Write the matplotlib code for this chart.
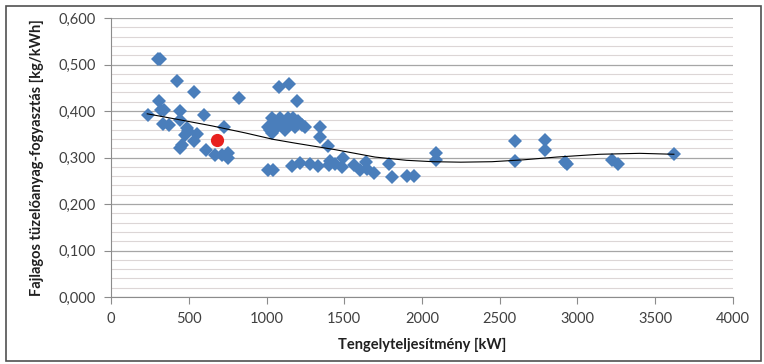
import numpy as np
import matplotlib
matplotlib.use("Agg")
import matplotlib.pyplot as plt
from matplotlib.ticker import MultipleLocator, FuncFormatter
from matplotlib.patches import Rectangle

plt.rcParams['font.family'] = ['Lato', 'DejaVu Sans']

# measured points: shaft power [kW] and specific fuel consumption [kg/kWh]
power = [300, 315, 427, 532, 823, 309, 236, 322, 343, 444, 598, 336, 375, 444,
         729, 487, 497, 476, 551, 536, 454, 444, 611, 669, 716, 754, 750,
         1080, 1145, 1194,
         1010, 1022, 1033, 1040, 1033, 1055, 1070, 1090, 1108, 1119, 1140, 1151,
         1173, 1185, 1205, 1230, 1248,
         1344, 1344, 1393, 1012, 1044, 1162, 1215, 1280, 1333, 1408, 1402,
         1494, 1487, 1441, 1565, 1600, 1640, 1648, 1691,
         1790, 1805, 1901, 1949, 2087, 2087, 2598, 2598, 2791, 2791,
         2918, 2932, 3220, 3262, 3622]
consumption = [0.512, 0.512, 0.465, 0.440, 0.428, 0.422, 0.392, 0.403, 0.403, 0.399,
               0.392, 0.372, 0.371, 0.381, 0.365, 0.363, 0.357, 0.349, 0.350, 0.335,
               0.327, 0.320, 0.317, 0.306, 0.306, 0.310, 0.299,
               0.451, 0.458, 0.422,
               0.365, 0.360, 0.385, 0.372, 0.353, 0.378, 0.365, 0.385, 0.372, 0.360,
               0.385, 0.372, 0.385, 0.365, 0.378, 0.370, 0.365,
               0.365, 0.345, 0.325, 0.274, 0.274, 0.281, 0.288, 0.285, 0.281, 0.293,
               0.283, 0.299, 0.279, 0.285, 0.284, 0.273, 0.290, 0.275, 0.266,
               0.285, 0.258, 0.260, 0.260, 0.309, 0.295, 0.336, 0.293, 0.337, 0.317,
               0.291, 0.287, 0.294, 0.287, 0.307]

# highlighted point
red_power = [680]
red_consumption = [0.337]

# trend line
trend_power = [233, 444, 650, 862, 1044, 1183, 1440, 1698, 1900, 2072, 2250,
               2450, 2650, 2866, 3145, 3400, 3620]
trend_consumption = [0.394, 0.381, 0.368, 0.353, 0.339, 0.331, 0.317, 0.301,
                     0.294, 0.291, 0.290, 0.291, 0.295, 0.301, 0.307, 0.309, 0.307]

fig = plt.figure(figsize=(7.64, 3.64), dpi=100)
ax = fig.add_axes([0.1453, 0.184, 0.8141, 0.7665])

# outer frame around the whole chart
fig.patches.append(Rectangle((0.008, 0.008), 0.988, 0.975, transform=fig.transFigure,
                             fill=False, edgecolor='#505050', linewidth=1.2))

ax.plot(power, consumption, 'D', color='#4a7ebb', markersize=7.5, markeredgewidth=0, zorder=3)
ax.plot(trend_power, trend_consumption, color='black', linewidth=0.8, zorder=4)
ax.plot(red_power, red_consumption, 'o', color='#e8201e', markersize=9.5, markeredgewidth=0, zorder=5)

ax.set_xlim(0, 4000)
ax.set_ylim(0, 0.6)
ax.xaxis.set_major_locator(MultipleLocator(500))
ax.yaxis.set_major_locator(MultipleLocator(0.1))
ax.yaxis.set_minor_locator(MultipleLocator(0.02))
ax.yaxis.set_major_formatter(FuncFormatter(lambda v, p: f"{v:.3f}".replace('.', ',')))

ax.grid(axis='y', which='major', color='#a6a6a6', linewidth=0.9)
ax.grid(axis='y', which='minor', color='#dcd6d6', linewidth=0.8)
ax.set_axisbelow(True)

for s in ['top', 'right']:
    ax.spines[s].set_visible(False)
for s in ['left', 'bottom']:
    ax.spines[s].set_color('#8c8c8c')
ax.tick_params(which='major', direction='out', length=5, color='#8c8c8c',
               labelsize=10.5, labelcolor='#404040', pad=6)
ax.tick_params(which='minor', length=0)

ax.set_xlabel('Tengelyteljesítmény [kW]', fontsize=10.5, fontweight='bold', color='#202020', labelpad=8)
ax.set_ylabel('Fajlagos tüzelőanyag-fogyasztás [kg/kWh]', fontsize=10.5, fontweight='bold',
              color='#202020', labelpad=10)

fig.savefig('out.png', dpi=100)
